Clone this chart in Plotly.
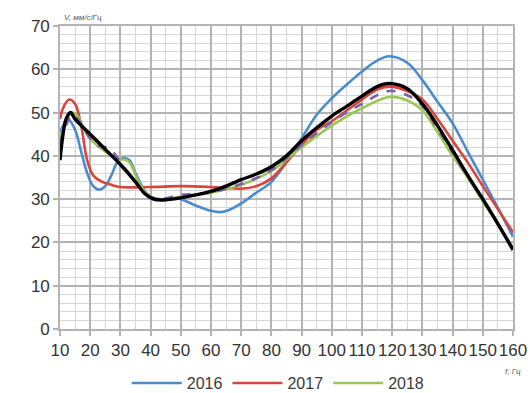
import plotly.graph_objects as go

# ---- data ----
f_2016 = [10, 12, 13, 15, 17, 19, 21, 23, 25, 27, 29, 31, 33, 35, 38, 40, 43, 47, 50, 55, 60, 63, 66, 70, 75, 80, 85, 90, 95, 100, 105, 110, 115, 119, 125, 130, 135, 140, 145, 150, 155, 160]
v_2016 = [45.5, 48, 48.3, 46, 41, 36, 33, 32.2, 33, 35.5, 38.5, 39.5, 39, 36, 32, 30.5, 30, 30.2, 30, 28.5, 27.3, 27, 27.5, 29, 31.5, 34, 38.5, 44, 49.5, 53.3, 56.5, 59.5, 62, 63, 61.5, 57.5, 52.5, 47.5, 41, 34.5, 28, 21.3]

f_2017 = [10, 11, 13, 15, 17, 19, 21, 24, 27, 30, 40, 50, 60, 65, 70, 75, 80, 85, 90, 95, 100, 105, 110, 115, 119, 125, 130, 135, 140, 145, 150, 155, 160]
v_2017 = [48.5, 51, 53, 52, 47, 39, 35.5, 34, 33.3, 32.8, 32.8, 33, 32.8, 32.6, 32.4, 33, 34.8, 38.5, 42.5, 46, 48, 50.5, 53, 55.3, 56, 55, 53, 48.5, 43.5, 38.5, 33, 27.7, 22.3]

f_2018 = [10, 12, 14, 16, 18, 20, 23, 26, 29, 31, 33, 36, 39, 42, 45, 50, 55, 60, 70, 80, 90, 100, 110, 119, 125, 130, 135, 140, 145, 150, 155, 160]
v_2018 = [44, 48, 50, 49, 46, 44, 42, 40.5, 39, 39.2, 38.5, 34, 31, 30, 30, 30.6, 31, 31.5, 33.3, 36.5, 42, 47, 51, 53.6, 52.8, 50.5, 45.5, 40, 35, 29.5, 24.2, 18.8]

f_purple = [10, 12, 14, 16, 19, 22, 26, 28, 31, 35, 38, 42, 45, 50, 55, 60, 70, 80, 90, 100, 110, 119, 125, 130, 135, 140, 145, 150, 155, 160]
v_purple = [43, 47, 49.5, 48.5, 45, 42.5, 41.8, 40.5, 37.5, 34, 31.5, 30, 30.2, 31, 31.2, 31.6, 33.5, 36.7, 42.5, 47.8, 52, 55, 54, 51.5, 46.2, 40.8, 35.3, 30, 24.2, 18.5]

f_black = [10, 11, 12, 13.5, 15, 20, 25, 30, 35, 38, 41, 44, 50, 55, 60, 66, 70, 75, 80, 85, 90, 95, 100, 105, 110, 115, 119, 125, 130, 135, 140, 145, 150, 155, 160]
v_black = [39, 45, 48.5, 50, 48.5, 45, 41.5, 38, 34, 31.3, 30, 29.8, 30.3, 31, 31.8, 33.3, 34.5, 35.8, 37.5, 40, 43.5, 46.5, 49.2, 51.5, 53.8, 56, 56.7, 55.5, 52, 47, 41.3, 35.5, 30, 24.3, 18.3]

x_ticks = list(range(10, 161, 10))
y_ticks = list(range(0, 71, 10))

fig = go.Figure()

def add(x, y, name, color, width, dash="solid", legend=True):
    fig.add_trace(go.Scatter(
        x=x, y=y, name=name, mode="lines",
        line=dict(color=color, width=width, dash=dash, shape="spline", smoothing=1.0),
        showlegend=legend))

add(f_2016, v_2016, "2016", "#4A8BD0", 2.6)
add(f_2017, v_2017, "2017", "#D9443B", 2.6)
add(f_2018, v_2018, "2018", "#9AC653", 2.6)
add(f_purple, v_purple, "", "#7E5FA8", 2.6, dash="dash", legend=False)
add(f_black, v_black, "", "#000000", 3.4, legend=False)

tickfont = dict(family="Liberation Sans, Arial, sans-serif", size=17, color="#333333")

fig.update_layout(
    width=530, height=393,
    margin=dict(l=60, r=17, t=26, b=64, autoexpand=False),
    paper_bgcolor="white", plot_bgcolor="white",
    showlegend=True,
    legend=dict(orientation="h", x=0.525, xanchor="center", xref="container",
                y=0.025, yanchor="middle", yref="container",
                font=dict(family="Liberation Sans, Arial, sans-serif", size=16, color="#3a3a3a"),
                itemwidth=50, tracegroupgap=0),
    xaxis=dict(range=[10, 160], tickvals=x_ticks, ticktext=[str(v) for v in x_ticks],
               tickangle=0, tickfont=tickfont, automargin=False,
               showgrid=True, gridcolor="#b4b4b4", gridwidth=1.6,
               minor=dict(dtick=5, tick0=0, showgrid=True, gridcolor="#d6d6d6", gridwidth=1.4),
               ticks="outside", ticklen=5, tickcolor="#b4b4b4", tickwidth=1.6,
               showline=True, linecolor="#b4b4b4", linewidth=1.6, mirror=True,
               zeroline=False, fixedrange=True),
    yaxis=dict(range=[0, 70], tickvals=y_ticks, tickfont=tickfont, automargin=False,
               showgrid=True, gridcolor="#b4b4b4", gridwidth=1.6,
               minor=dict(dtick=2, tick0=0, showgrid=True, gridcolor="#d6d6d6", gridwidth=1.4),
               ticks="outside", ticklen=5, tickcolor="#b4b4b4", tickwidth=1.6,
               showline=True, linecolor="#b4b4b4", linewidth=1.6, mirror=True,
               zeroline=False, fixedrange=True),
)

fig.add_annotation(xref="paper", yref="paper", x=0.0, y=1.0, xanchor="left", yanchor="bottom",
                   xshift=2, yshift=2, showarrow=False,
                   text="<i>V, мм/с/Гц</i>",
                   font=dict(family="Liberation Sans, Arial, sans-serif", size=8, color="#555555"))
fig.add_annotation(xref="paper", yref="paper", x=1.0, y=0.0, xanchor="center", yanchor="top",
                   yshift=-36, showarrow=False,
                   text="<i>f, Гц</i>",
                   font=dict(family="Liberation Sans, Arial, sans-serif", size=8, color="#555555"))

fig.write_html("out.html")
